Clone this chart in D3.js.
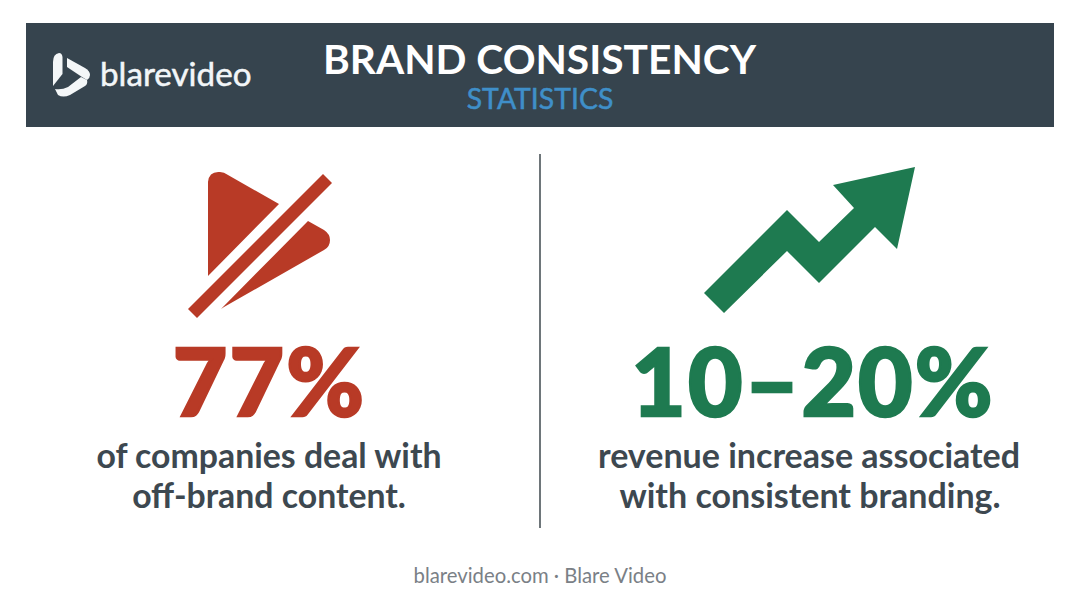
<!DOCTYPE html>
<html><head><meta charset="utf-8">
<script src="https://cdn.jsdelivr.net/npm/d3@7/dist/d3.min.js"></script>
<style>html,body{margin:0;background:#fff}svg{display:block}text{font-family:Lato,sans-serif}</style>
</head><body><svg id="c" width="1080" height="603"></svg>
<script>
const statValues = ["77%", "10–20%"];
const statLines = [["of companies deal with", "off-brand content."], ["revenue increase associated", "with consistent branding."]];
const statColors = ["#b83a26", "#1e7a50"];
const titleText = "BRAND CONSISTENCY";
const subtitleText = "STATISTICS";
const brandText = "blarevideo";
const footerText = "blarevideo.com · Blare Video";

const svg = d3.select("#c");
svg.append("rect").attr("x",26).attr("y",23).attr("width",1028).attr("height",104).attr("fill","#36444e");
svg.append("text").attr("x",539.5).attr("y",74).attr("text-anchor","middle").attr("font-size",40.7).attr("font-weight",700).attr("fill","#fff").text(titleText);
svg.append("text").attr("x",540).attr("y",108.5).attr("text-anchor","middle").attr("font-size",28.4).attr("font-weight",400).attr("fill","#3f8fc9").attr("stroke","#3f8fc9").attr("stroke-width",0.5).text(subtitleText);
svg.append("text").attr("x",100).attr("y",86).attr("font-size",33.2).attr("font-weight",400).attr("fill","#f2f6f8").attr("stroke","#f2f6f8").attr("stroke-width",0.5).text(brandText);

// logo
const logo = svg.append("g").attr("fill","#f4f7f8");
logo.append("path").attr("d","M53 62 Q53 54 59 53 Q62 53 62.5 57 L62.5 74 L53 86 Z");
logo.append("path").attr("d","M67 58 L85 68 Q90 71 90 75 Q90 78 87 80 L82 77 L67 67 Z");
logo.append("path").attr("d","M55 89 Q62 90 68 87 L81 77 L87 80 Q88 84 85 86 L70 95 Q63 98 58 95 Z");

// divider
svg.append("line").attr("x1",540).attr("x2",540).attr("y1",154).attr("y2",528).attr("stroke","#4a5358").attr("stroke-width",1.6);

// icons
const red = svg.append("g").attr("fill",statColors[0]);
red.append("path").attr("d","M208 276 L208 182 Q209 171 220 172 Q224 172 228 175 L279 204 Z");
red.append("path").attr("d","M323 174 L332 183 L197 318 L188 309 Z");
red.append("path").attr("d","M308 221 L324 230 Q330 234 330 240 Q330 247 324 250 L224 307 L221 309 Z");
svg.append("path").attr("fill",statColors[1])
 .attr("d","M704 293 L787 210 L819 242 L854 208 L833 185 L915 167 L897 249 L875 227 L819 283 L787 251 L724 313 Z");

// stats
const cx = [269.5, 813], lineX=[269,809], lineY=[468,508];
statValues.forEach((v,i)=>{
  svg.append("text").attr("x",cx[i]).attr("y",415.7).attr("text-anchor","middle").attr("font-size",94).attr("font-weight",900).attr("letter-spacing",2.2)
    .attr("fill",statColors[i]).attr("stroke",statColors[i]).attr("stroke-width",2.5).attr("stroke-linejoin","miter").text(v);
  statLines[i].forEach((t,j)=>{
    svg.append("text").attr("x",lineX[i]+(j&&i?1:0)).attr("y",lineY[j]).attr("text-anchor","middle").attr("font-size",i?34:33.8).attr("font-weight",700).attr("fill","#3d4850").text(t);
  });
});
svg.append("text").attr("x",540).attr("y",582.5).attr("text-anchor","middle").attr("font-size",20.3).attr("fill","#7a8086").text(footerText);
</script></body></html>
